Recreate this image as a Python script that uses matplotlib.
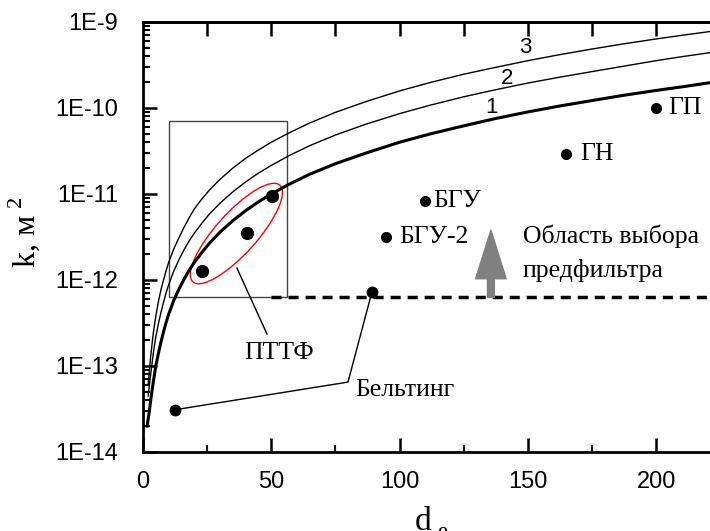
import numpy as np
import matplotlib
matplotlib.use("Agg")
import matplotlib.pyplot as plt
from matplotlib.patches import Ellipse, Rectangle
from matplotlib.transforms import IdentityTransform
from matplotlib.ticker import LogLocator, FuncFormatter, MultipleLocator, NullFormatter

plt.rcParams['font.family'] = ['Liberation Sans', 'DejaVu Sans']
plt.rcParams['mathtext.fontset'] = 'custom'
plt.rcParams['mathtext.rm'] = 'Liberation Serif'
SERIF = ['Liberation Serif', 'DejaVu Serif']

# curves 1-3
d_curve1 = [1.6, 2, 2.5, 3, 4, 5, 6, 7, 8, 9, 10, 12, 14, 16, 18, 20, 23, 26, 30, 35, 40, 45,
            50, 57, 65, 75, 87, 100, 112, 125, 137, 150, 162, 175, 187, 200, 210, 221]
k_curve1 = [2.0e-14, 2.4e-14, 3.0e-14, 4.0e-14, 6.5e-14, 1.0e-13, 1.4e-13, 1.9e-13, 2.5e-13,
            3.2e-13, 4.0e-13, 5.8e-13, 7.8e-13, 1.02e-12, 1.3e-12, 1.6e-12, 2.1e-12, 2.7e-12,
            3.6e-12, 4.9e-12, 6.4e-12, 8.1e-12, 1.0e-11, 1.3e-11, 1.7e-11, 2.25e-11, 3.0e-11,
            4.0e-11, 5.0e-11, 6.2e-11, 7.5e-11, 9.0e-11, 1.05e-10, 1.22e-10, 1.4e-10, 1.6e-10,
            1.76e-10, 1.97e-10]
d_curve = [2, 2.5, 3, 4, 5, 6, 7, 8, 9, 10, 12, 14, 16, 18, 20, 23, 26, 30, 35, 40, 45,
           50, 57, 65, 75, 87, 100, 112, 125, 137, 150, 162, 175, 187, 200, 210, 221]
k_curve2 = [4.5e-14, 6.0e-14, 8.0e-14, 1.4e-13, 2.2e-13, 3.1e-13, 4.2e-13, 5.5e-13, 7.1e-13,
            8.8e-13, 1.27e-12, 1.72e-12, 2.25e-12, 2.85e-12, 3.5e-12, 4.6e-12, 5.9e-12, 7.8e-12,
            1.06e-11, 1.38e-11, 1.75e-11, 2.15e-11, 2.8e-11, 3.65e-11, 4.85e-11, 6.5e-11,
            8.6e-11, 1.08e-10, 1.35e-10, 1.62e-10, 1.95e-10, 2.27e-10, 2.65e-10, 3.05e-10,
            3.55e-10, 3.95e-10, 4.4e-10]
k_curve3 = [6.0e-14, 9.0e-14, 1.3e-13, 2.4e-13, 3.8e-13, 5.6e-13, 7.7e-13, 1.0e-12, 1.28e-12,
            1.6e-12, 2.3e-12, 3.1e-12, 4.1e-12, 5.3e-12, 6.7e-12, 8.8e-12, 1.12e-11, 1.48e-11,
            2.0e-11, 2.6e-11, 3.25e-11, 4.0e-11, 5.15e-11, 6.7e-11, 8.9e-11, 1.19e-10, 1.58e-10,
            1.98e-10, 2.47e-10, 2.95e-10, 3.55e-10, 4.15e-10, 4.85e-10, 5.55e-10, 6.35e-10,
            7.0e-10, 7.75e-10]

# measured filters
pttf_d = [23, 40.5, 50.3]
pttf_k = [1.27e-12, 3.5e-12, 9.5e-12]
belt_d = [12.5, 89.2]
belt_k = [3.1e-14, 7.2e-13]
named_d = [94.7, 110, 165, 200]
named_k = [3.2e-12, 8.3e-12, 2.9e-11, 1.0e-10]

# prefilter boundary
bound_d = [50, 221]
bound_k = [6.3e-13, 6.3e-13]
box_d = [10, 56]
box_k = [6.3e-13, 7.0e-11]

fig = plt.figure(figsize=(7.1, 5.31), dpi=100)
ax = fig.add_axes([143 / 710, 1 - 452 / 531, 1 - 143 / 710, 430 / 531])
ax.set_yscale('log')
ax.set_xlim(0, 221)
ax.set_ylim(1e-14, 1e-9)

ax.plot(d_curve1, k_curve1, color='black', lw=2.2)
ax.plot(d_curve, k_curve2, color='black', lw=1.0)
ax.plot(d_curve, k_curve3, color='black', lw=1.0)

ax.plot(bound_d, bound_k, color='black', lw=2.5, dashes=(2.9, 2.0))
ax.add_patch(Rectangle((box_d[0], box_k[0]), box_d[1] - box_d[0], box_k[1] - box_k[0],
                       fill=False, ec='#444444', lw=1.0))

ax.plot(pttf_d, pttf_k, 'o', color='black', ms=8.5)
ax.plot(belt_d, belt_k, 'o', color='black', ms=7.5)
ax.plot(named_d, named_k, 'o', color='black', ms=7)

# leader lines
ax.plot([36.6, 48.3], [1.38e-12, 2.36e-13], color='black', lw=1)
ax.plot([belt_d[0], 79.9, belt_d[1]], [belt_k[0], 6.5e-14, belt_k[1]], color='black', lw=1)

# red ellipse round the ПТТФ points
cx, cy = ax.transData.transform((36.4, 3.47e-12))
ax.add_patch(Ellipse((cx, cy), 130, 41, angle=48, fill=False, ec='red', lw=1.0,
                     transform=IdentityTransform()))

# gray arrow
ax.annotate('', xy=(135.6, 3.8e-12), xytext=(135.6, 6.3e-13),
            arrowprops=dict(arrowstyle='simple,head_length=35,head_width=22,tail_width=5',
                            mutation_scale=1, color='#808080', shrinkA=0, shrinkB=0))

tfs = 18.5
ax.text(53, 1.42e-13, 'ПТТФ', family=SERIF, fontsize=tfs, ha='center', va='center')
ax.text(102, 5.3e-14, 'Бельтинг', family=SERIF, fontsize=tfs, ha='center', va='center')
ax.text(99.8, 3.16e-12, 'БГУ-2', family=SERIF, fontsize=tfs, ha='left', va='center')
ax.text(113, 8.3e-12, 'БГУ', family=SERIF, fontsize=tfs, ha='left', va='center')
ax.text(170.3, 2.9e-11, 'ГН', family=SERIF, fontsize=tfs, ha='left', va='center')
ax.text(204.6, 1.0e-10, 'ГП', family=SERIF, fontsize=tfs, ha='left', va='center')
ax.text(148, 3.25e-12, 'Область выбора', family=SERIF, fontsize=tfs, ha='left', va='center')
ax.text(148, 1.3e-12, 'предфильтра', family=SERIF, fontsize=tfs, ha='left', va='center')

ax.text(136, 1.0e-10, '1', fontsize=16, ha='center', va='center')
ax.text(141.9, 2.23e-10, '2', fontsize=16, ha='center', va='center')
ax.text(148.9, 5.0e-10, '3', fontsize=16, ha='center', va='center')

# axes styling
for s in ['left', 'bottom', 'top']:
    ax.spines[s].set_linewidth(2)
ax.spines['right'].set_visible(False)

ax.xaxis.set_major_locator(MultipleLocator(50))
ax.xaxis.set_minor_locator(MultipleLocator(25))
ax.yaxis.set_major_locator(LogLocator(base=10, numticks=10))
ax.yaxis.set_minor_locator(LogLocator(base=10, subs=np.arange(2, 10), numticks=20))
ax.yaxis.set_minor_formatter(NullFormatter())
ax.yaxis.set_major_formatter(FuncFormatter(lambda v, p: '1E%d' % round(np.log10(v))))
ax.tick_params(axis='both', which='major', direction='in', length=10, width=1.8, labelsize=17)
ax.tick_params(axis='both', which='minor', direction='in', length=5, width=1.5)
ax.tick_params(axis='y', which='both', pad=18, right=False)
ax.tick_params(axis='x', which='major', pad=14)

top = ax.secondary_xaxis('top')
top.set_xticks([25, 50, 75, 100, 125, 150, 175, 200])
top.set_xticklabels([])
top.tick_params(direction='in', length=10, width=1.8, labeltop=False)
top.spines['top'].set_linewidth(2)

fig.text(24 / 710, 1 - 232 / 531, r'k, м$^{\ 2}$', family=SERIF, fontsize=23,
         rotation=90, ha='center', va='center')
fig.text(415 / 710, 1 - 530 / 531, 'd', family=SERIF, fontsize=24, ha='left', va='baseline')
fig.text(437 / 710, 1 - 537 / 531, 'e', family=SERIF, fontsize=16, ha='left', va='baseline')

fig.savefig('out.png', dpi=100)
